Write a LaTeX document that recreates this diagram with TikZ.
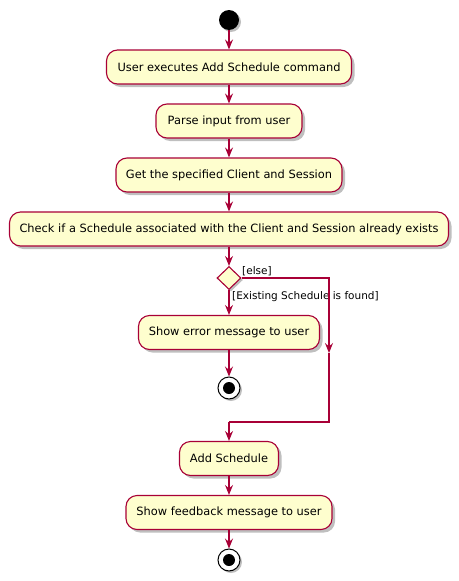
\documentclass[tikz,border=0pt]{standalone}
\usepackage{fontspec}
\setmainfont{DejaVu Sans}
\usetikzlibrary{arrows.meta,shadows,shapes.geometric}
\definecolor{pborder}{HTML}{A80036}
\definecolor{pfill}{HTML}{FEFECE}
\tikzset{
  act/.style={draw=pborder,fill=pfill,line width=1.1pt,rounded corners=11pt,
    minimum height=34pt,inner sep=0pt,font=\fontsize{11.4}{13}\selectfont,
    drop shadow={shadow xshift=3pt,shadow yshift=-3pt,opacity=0.25,fill=black}},
  flow/.style={draw=pborder,line width=1.1pt,-{Stealth[length=10pt,width=8pt,inset=3.5pt]}},
  plain/.style={draw=pborder,line width=1.1pt},
  lbl/.style={font=\fontsize{10.5}{12}\selectfont,inner sep=0pt,anchor=west},
  startc/.style={circle,fill=black,minimum size=20pt,inner sep=0pt,
    drop shadow={shadow xshift=2pt,shadow yshift=-2pt,opacity=0.25,fill=black}},
  endc/.style={circle,draw=black,fill=white,line width=1pt,minimum size=22pt,inner sep=0pt,
    drop shadow={shadow xshift=2pt,shadow yshift=-2pt,opacity=0.25,fill=black}},
  dec/.style={diamond,draw=pborder,fill=pfill,line width=1.1pt,minimum width=24pt,minimum height=23pt,inner sep=0pt,aspect=1,
    drop shadow={shadow xshift=2pt,shadow yshift=-2pt,opacity=0.25,fill=black}}
}
\begin{document}
\begin{tikzpicture}[x=1pt,y=-1pt]
\useasboundingbox (0,0) rectangle (458,581);
\node[startc] (s) at (229,20) {};
\node[act,minimum width=245pt] (a1) at (229,67) {User executes Add Schedule command};
\node[act,minimum width=146pt] (a2) at (229,121) {Parse input from user};
\node[act,minimum width=226pt] (a3) at (229,175) {Get the specified Client and Session};
\node[act,minimum width=439pt] (a4) at (229,229) {Check if a Schedule associated with the Client and Session already exists};
\node[dec] (d) at (229,278) {};
\node[act,minimum width=181pt] (a5) at (229,332.5) {Show error message to user};
\node[endc] (e1) at (229,388) {};
\fill[black] (e1) circle (6pt);
\node[act,minimum width=99pt] (a6) at (229,458.5) {Add Schedule};
\node[act,minimum width=206pt] (a7) at (229,512.5) {Show feedback message to user};
\node[endc] (e2) at (229,560) {};
\fill[black] (e2) circle (6pt);
\node[lbl] (l1) at (242,271.5) {[else]};
\node[lbl] (l2) at (232,297) {[Existing Schedule is found]};
\coordinate (eR) at (329,278);
\coordinate (eM) at (329,353);
\coordinate (eB) at (329,422);
\coordinate (j) at (229,422);
\draw[flow] (s) -- (a1);
\draw[flow] (a1) -- (a2);
\draw[flow] (a2) -- (a3);
\draw[flow] (a3) -- (a4);
\draw[flow] (a4) -- (d);
\draw[flow] (d) -- (a5);
\draw[flow] (a5) -- (e1);
\draw[flow] (d.east) -- (eR) -- (eM);
\draw[plain] (eM) -- (eB) -- (j);
\draw[flow] (j) -- (a6);
\draw[flow] (a6) -- (a7);
\draw[flow] (a7) -- (e2);
\end{tikzpicture}
\end{document}
